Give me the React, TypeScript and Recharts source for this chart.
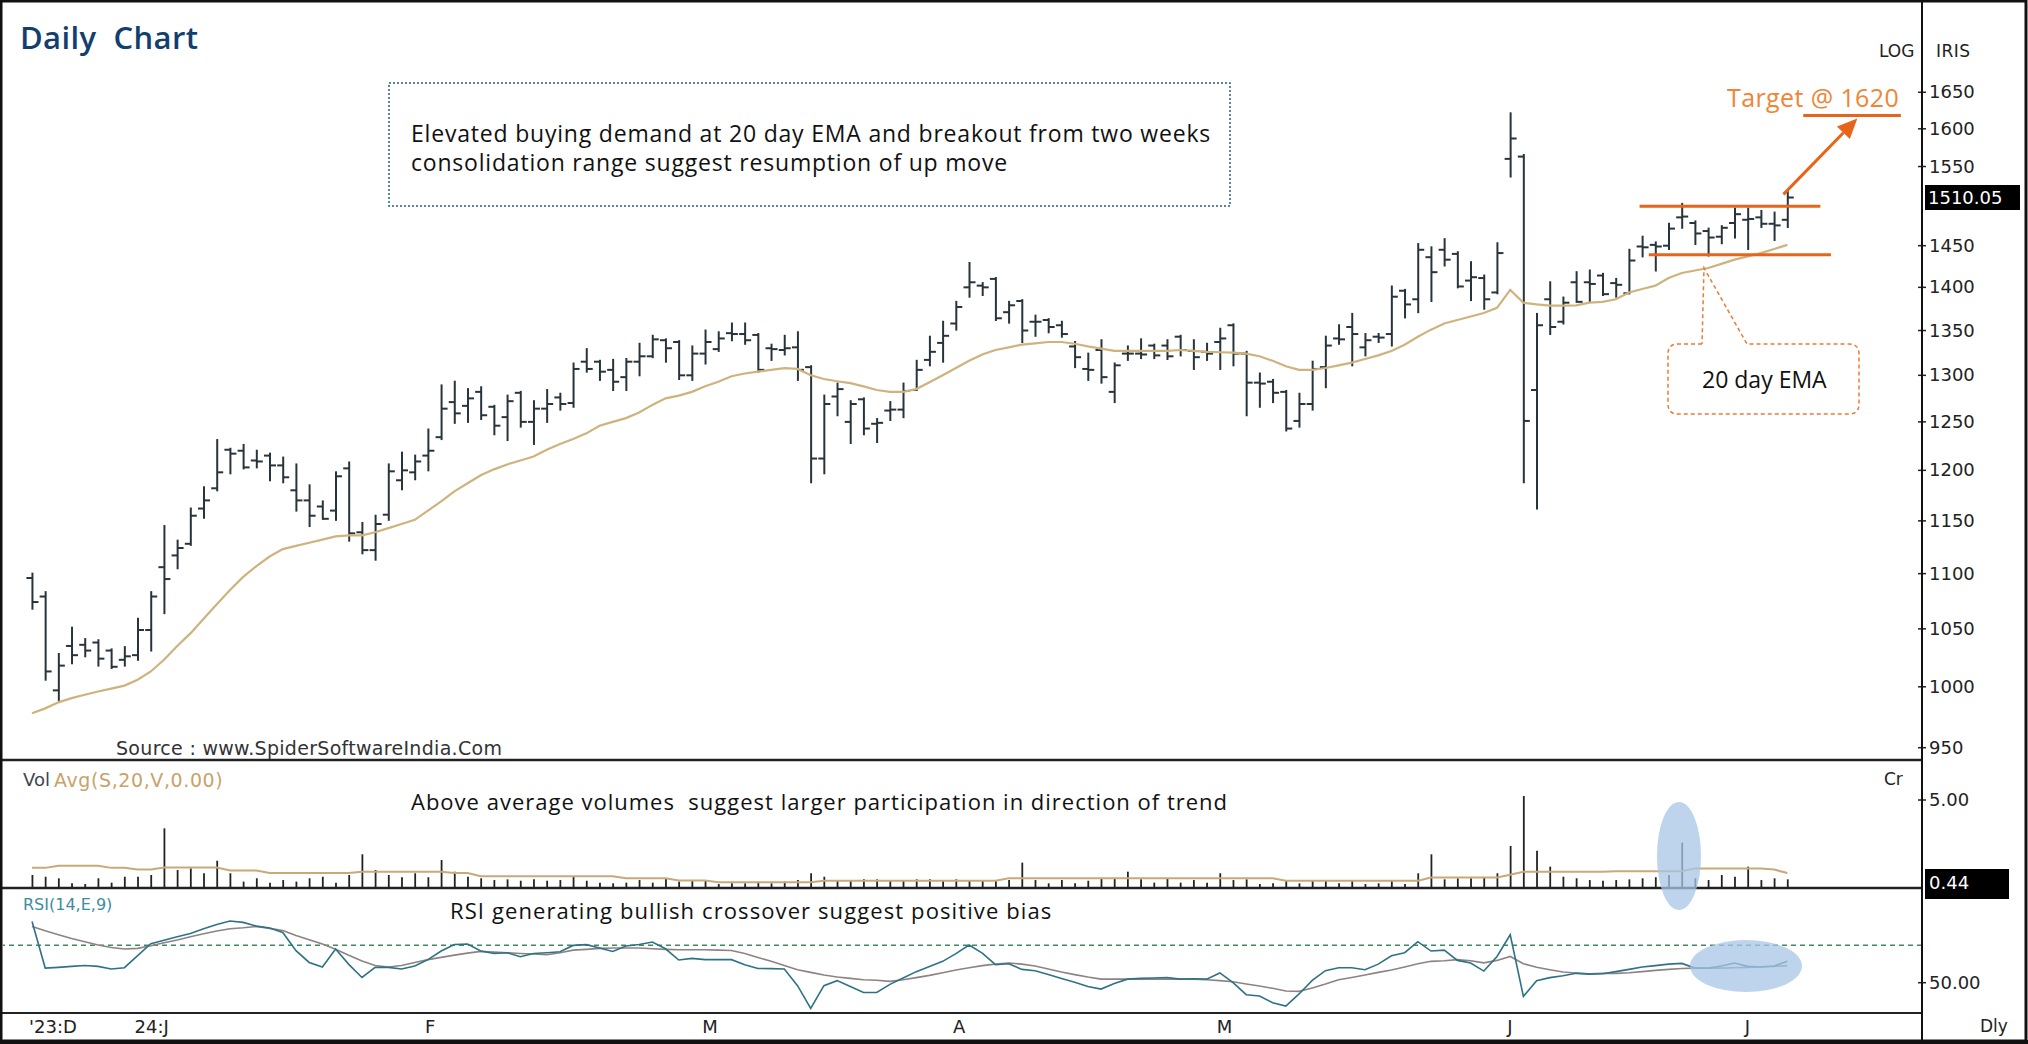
import React from "react";
import {
  ComposedChart,
  Bar,
  Line,
  XAxis,
  YAxis,
  ReferenceLine,
} from "recharts";

// one value per trading day, Dec 2023 .. early Jul 2024
const opens = [1096, 1079, 997, 1035, 1036, 1038, 1031, 1023, 1027, 1049,
  1106, 1117, 1128, 1162, 1182, 1221, 1220, 1210, 1215, 1205,
  1180, 1170, 1164, 1160, 1202, 1139, 1122, 1156, 1190, 1198,
  1215, 1234, 1271, 1267, 1282, 1266, 1255, 1281, 1250, 1264,
  1276, 1270, 1315, 1315, 1306, 1298, 1315, 1321, 1339, 1337,
  1300, 1324, 1329, 1347, 1346, 1345, 1330, 1328, 1331, 1309,
  1212, 1277, 1250, 1274, 1248, 1262, 1263, 1284, 1317, 1336,
  1358, 1400, 1402, 1410, 1371, 1384, 1360, 1362, 1356, 1332,
  1307, 1328, 1282, 1324, 1324, 1333, 1333, 1343, 1327, 1326,
  1337, 1356, 1324, 1292, 1293, 1282, 1251, 1269, 1309, 1341,
  1354, 1331, 1343, 1346, 1396, 1386, 1436, 1445, 1440, 1408,
  1411, 1394, 1560, 1563, 1284, 1386, 1360, 1406, 1406, 1414,
  1405, 1393, 1449, 1451, 1450, 1485, 1478, 1468, 1461, 1478,
  1482, 1485, 1477, 1482];

const highs = [1100, 1083, 1028, 1051, 1041, 1040, 1032, 1034, 1059, 1083,
  1145, 1131, 1162, 1183, 1231, 1222, 1226, 1220, 1217, 1213,
  1206, 1185, 1169, 1198, 1208, 1148, 1155, 1206, 1218, 1215,
  1242, 1289, 1293, 1285, 1287, 1267, 1278, 1282, 1272, 1284,
  1280, 1313, 1329, 1316, 1317, 1318, 1335, 1344, 1340, 1338,
  1332, 1350, 1348, 1358, 1358, 1346, 1334, 1344, 1348, 1310,
  1278, 1291, 1272, 1275, 1253, 1271, 1291, 1316, 1343, 1360,
  1383, 1429, 1405, 1411, 1383, 1385, 1367, 1363, 1360, 1337,
  1324, 1339, 1313, 1332, 1340, 1334, 1339, 1344, 1339, 1335,
  1352, 1357, 1326, 1302, 1295, 1283, 1280, 1315, 1343, 1356,
  1369, 1346, 1346, 1401, 1397, 1452, 1448, 1458, 1442, 1430,
  1414, 1453, 1621, 1565, 1369, 1406, 1388, 1418, 1420, 1416,
  1410, 1445, 1461, 1454, 1477, 1502, 1480, 1471, 1474, 1496,
  1496, 1493, 1491, 1517];

const lows = [1068, 1006, 989, 1020, 1026, 1018, 1016, 1018, 1023, 1031,
  1064, 1105, 1127, 1153, 1180, 1197, 1202, 1203, 1190, 1188,
  1160, 1145, 1152, 1151, 1131, 1119, 1113, 1151, 1181, 1191,
  1200, 1232, 1249, 1250, 1253, 1237, 1231, 1245, 1227, 1250,
  1263, 1266, 1304, 1295, 1284, 1284, 1300, 1320, 1315, 1296,
  1295, 1313, 1327, 1339, 1335, 1304, 1317, 1323, 1295, 1188,
  1197, 1257, 1228, 1237, 1229, 1252, 1255, 1284, 1311, 1315,
  1351, 1389, 1391, 1362, 1359, 1337, 1344, 1348, 1343, 1309,
  1295, 1292, 1271, 1317, 1319, 1319, 1318, 1322, 1307, 1317,
  1307, 1311, 1257, 1266, 1271, 1241, 1245, 1263, 1287, 1335,
  1311, 1322, 1337, 1333, 1365, 1371, 1384, 1426, 1400, 1385,
  1375, 1393, 1537, 1188, 1162, 1346, 1358, 1383, 1383, 1391,
  1389, 1393, 1437, 1420, 1446, 1472, 1452, 1438, 1453, 1460,
  1446, 1473, 1457, 1473];

const closes = [1074, 1013, 1018, 1027, 1031, 1024, 1017, 1026, 1049, 1079,
  1095, 1124, 1155, 1170, 1198, 1217, 1203, 1209, 1205, 1193,
  1170, 1155, 1152, 1194, 1138, 1122, 1147, 1199, 1200, 1209,
  1220, 1264, 1259, 1275, 1257, 1246, 1272, 1250, 1264, 1269,
  1269, 1307, 1307, 1304, 1293, 1315, 1321, 1340, 1330, 1300,
  1324, 1337, 1341, 1346, 1339, 1306, 1329, 1330, 1306, 1212,
  1269, 1285, 1269, 1243, 1249, 1263, 1283, 1306, 1326, 1344,
  1377, 1406, 1400, 1364, 1379, 1350, 1360, 1354, 1346, 1320,
  1306, 1298, 1311, 1324, 1323, 1322, 1321, 1328, 1320, 1324,
  1341, 1324, 1292, 1291, 1281, 1243, 1269, 1307, 1333, 1340,
  1346, 1339, 1342, 1389, 1380, 1445, 1418, 1433, 1401, 1412,
  1386, 1441, 1587, 1251, 1356, 1354, 1382, 1383, 1404, 1392,
  1403, 1432, 1448, 1449, 1471, 1486, 1465, 1460, 1472, 1489,
  1483, 1477, 1475, 1510.05];

const ema20 = [978, 982, 987, 990.5, 993.3, 996, 998.5, 1001, 1006, 1013,
  1023, 1035, 1046, 1059, 1072, 1085, 1097, 1107, 1116, 1123,
  1126, 1129, 1132, 1135, 1136, 1136, 1139, 1143, 1147, 1151,
  1160, 1169, 1179, 1187, 1195, 1201, 1206, 1210, 1214, 1221,
  1227, 1232, 1238, 1246, 1250, 1254, 1260, 1268, 1275, 1278,
  1282, 1288, 1293, 1299, 1302, 1304, 1306, 1308, 1307, 1300,
  1296, 1293.5, 1291.5, 1288, 1284, 1282, 1282, 1285, 1292.5, 1300,
  1308, 1316, 1323, 1328, 1331, 1334, 1335.5, 1337, 1337, 1335,
  1332, 1329.5, 1327, 1327, 1327, 1327, 1327, 1328, 1327, 1326,
  1325.5, 1325, 1324, 1321, 1316, 1310, 1306, 1306, 1308, 1311,
  1314, 1318, 1322, 1327, 1334, 1343, 1351, 1358, 1362, 1366,
  1370, 1376, 1397, 1382, 1380, 1378.5, 1378.5, 1379, 1382, 1383,
  1386, 1394, 1398, 1402, 1411, 1417, 1420, 1423, 1428, 1433,
  1437, 1441, 1446, 1451];

// volume in crore
const volumes = [0.69, 0.59, 0.5, 0.21, 0.17, 0.5, 0.25, 0.59, 0.59, 0.69,
  3.37, 0.98, 1.07, 0.79, 1.51, 0.79, 0.31, 0.5, 0.25, 0.4,
  0.31, 0.5, 0.59, 0.25, 0.69, 1.88, 0.98, 0.69, 0.56, 0.79,
  0.56, 1.55, 0.88, 0.59, 0.5, 0.4, 0.44, 0.36, 0.44, 0.36,
  0.4, 0.59, 0.36, 0.25, 0.21, 0.25, 0.4, 0.25, 0.5, 0.31,
  0.4, 0.36, 0.17, 0.21, 0.21, 0.31, 0.21, 0.31, 0.4, 0.79,
  0.59, 0.4, 0.4, 0.44, 0.44, 0.4, 0.4, 0.44, 0.44, 0.4,
  0.44, 0.4, 0.4, 0.4, 0.4, 1.4, 0.4, 0.21, 0.4, 0.21,
  0.36, 0.5, 0.5, 0.88, 0.44, 0.25, 0.5, 0.25, 0.4, 0.25,
  0.79, 0.4, 0.44, 0.17, 0.21, 0.36, 0.21, 0.36, 0.36, 0.21,
  0.36, 0.17, 0.21, 0.36, 0.17, 0.79, 1.88, 0.44, 0.5, 0.5,
  0.56, 0.79, 2.36, 5.23, 2.09, 1.17, 0.59, 0.5, 0.4, 0.36,
  0.4, 0.44, 0.5, 0.56, 0.69, 2.55, 0.5, 0.4, 0.69, 0.59,
  1.17, 0.4, 0.5, 0.44];

const volAvg = [1.1, 1.1, 1.22, 1.22, 1.22, 1.22, 1.1, 1.1, 1.0, 1.0,
  1.12, 1.12, 1.12, 1.12, 1.12, 0.95, 0.95, 0.95, 0.8, 0.8,
  0.8, 0.8, 0.8, 0.8, 0.8, 0.88, 0.88, 0.88, 0.88, 0.88,
  0.88, 0.88, 0.8, 0.8, 0.62, 0.62, 0.62, 0.62, 0.62, 0.62,
  0.62, 0.62, 0.62, 0.62, 0.62, 0.5, 0.5, 0.5, 0.5, 0.38,
  0.38, 0.38, 0.28, 0.28, 0.28, 0.28, 0.28, 0.28, 0.28, 0.28,
  0.36, 0.36, 0.36, 0.36, 0.36, 0.36, 0.36, 0.36, 0.36, 0.36,
  0.36, 0.36, 0.36, 0.36, 0.5, 0.5, 0.5, 0.5, 0.5, 0.5,
  0.5, 0.5, 0.5, 0.5, 0.5, 0.5, 0.5, 0.5, 0.5, 0.5,
  0.5, 0.5, 0.5, 0.5, 0.5, 0.36, 0.36, 0.36, 0.36, 0.36,
  0.36, 0.36, 0.36, 0.36, 0.36, 0.36, 0.55, 0.55, 0.55, 0.55,
  0.55, 0.55, 0.7, 0.88, 0.88, 0.88, 0.88, 0.88, 0.88, 0.88,
  0.9, 0.9, 0.9, 0.9, 0.9, 0.9, 1.07, 1.07, 1.07, 1.07,
  1.07, 1.07, 1.0, 0.8];

const rsi = [82.7, 57.8, 58.2, 58.7, 59.2, 58.7, 57.3, 58.0, 64.4, 70.8,
  72.7, 74.5, 76.3, 78.8, 81.1, 82.9, 82.2, 80.2, 79.2, 76.8,
  67.1, 60.8, 58.4, 68.0, 59.8, 52.8, 58.2, 58.2, 57.3, 58.9,
  62.3, 66.9, 70.4, 70.6, 66.9, 65.6, 66.0, 63.9, 65.6, 66.0,
  66.5, 69.9, 70.3, 68.5, 66.7, 69.6, 70.4, 71.7, 68.1, 62.1,
  63.0, 62.3, 62.3, 62.3, 59.6, 57.6, 57.5, 57.3, 48.4, 36.3,
  48.4, 51.1, 48.0, 44.8, 44.8, 49.1, 52.5, 55.9, 58.7, 61.4,
  65.5, 70.1, 65.8, 59.6, 60.1, 57.1, 56.4, 54.4, 52.3, 50.2,
  48.0, 46.6, 49.6, 51.9, 52.3, 52.5, 52.8, 51.9, 52.1, 51.9,
  55.2, 50.0, 43.6, 42.9, 39.3, 37.5, 44.0, 51.2, 56.4, 58.0,
  58.0, 56.9, 59.9, 64.4, 66.0, 71.9, 66.9, 67.4, 61.9, 60.5,
  56.2, 64.0, 75.6, 42.7, 51.1, 52.7, 53.7, 55.0, 54.6, 54.8,
  55.9, 57.1, 58.4, 59.1, 59.9, 60.3, 57.8, 57.8, 58.9, 60.5,
  58.7, 58.4, 58.9, 61.4];

const rsiSignal = [80.0, 77.7, 75.6, 73.6, 71.9, 70.1, 68.8, 68.0, 68.3, 69.7,
  71.3, 72.8, 74.5, 76.1, 77.6, 78.8, 79.3, 80.0, 79.0, 77.9,
  75.2, 72.9, 70.6, 67.8, 64.6, 61.6, 59.2, 58.4, 59.2, 60.8,
  62.3, 63.5, 64.7, 65.8, 66.7, 66.3, 66.0, 65.6, 65.3, 64.9,
  66.0, 67.4, 67.8, 68.3, 68.5, 68.5, 68.5, 68.1, 67.8, 67.6,
  67.6, 67.6, 67.4, 67.2, 65.6, 63.5, 61.4, 59.2, 56.9, 55.5,
  54.1, 53.0, 52.3, 51.6, 51.3, 50.7, 51.6, 52.7, 53.9, 55.3,
  56.8, 58.0, 59.1, 59.9, 60.5, 59.9, 58.9, 57.3, 55.7, 54.3,
  53.0, 51.9, 51.9, 51.9, 51.9, 51.9, 51.9, 51.9, 51.9, 51.6,
  51.1, 50.5, 49.3, 48.2, 47.0, 45.6, 45.4, 47.2, 49.3, 51.6,
  52.8, 54.1, 55.5, 56.8, 58.4, 60.1, 61.4, 61.7, 62.3, 61.7,
  60.6, 61.9, 64.0, 60.1, 58.2, 56.9, 55.7, 55.2, 54.8, 55.0,
  55.0, 55.3, 55.9, 56.6, 57.1, 57.6, 57.8, 57.8, 57.8, 58.0,
  58.2, 58.5, 58.7, 59.1];

// 1500 sits under the last-price box, so it is not labelled
const priceTicks = [950, 1000, 1050, 1100, 1150, 1200, 1250, 1300, 1350, 1400, 1450, 1550, 1600, 1650];
const monthTicks = [0, 8, 30, 51, 70, 90, 112, 130];
const monthLabels = ["'23:D", "24:J", "F", "M", "A", "M", "J", "J"];

const rows = opens.map((o, i) => ({
  i,
  o,
  h: highs[i],
  l: lows[i],
  c: closes[i],
  range: [lows[i], highs[i]],
  ema: ema20[i],
  vol: volumes[i],
  avg: volAvg[i],
  rsi: rsi[i],
  sig: rsiSignal[i],
}));

const W = 2028;
const H = 1044;
const xDomain: [number, number] = [-2.2, 143.2];
const AXIS_W = 100;
const axisFont = '"DejaVu Sans", Verdana, sans-serif';
const noteFont = '"Open Sans", "Noto Sans", sans-serif';
const BAR_COLOR = "#27343b";
const ORANGE = "#e8641b";

function OhlcShape(props: any) {
  const { x, y, width, height, payload } = props;
  if (x == null || !payload) return null;
  const cx = x + width / 2;
  const lh = Math.log(payload.h);
  const ll = Math.log(payload.l);
  const span = lh - ll || 1;
  const at = (v: number) => y + ((lh - Math.log(v)) / span) * height;
  return (
    <g stroke={BAR_COLOR} strokeWidth={2}>
      <line x1={cx} x2={cx} y1={y - 1} y2={y + height + 1} />
      <line x1={cx - 6} x2={cx} y1={at(payload.o)} y2={at(payload.o)} />
      <line x1={cx} x2={cx + 6} y1={at(payload.c)} y2={at(payload.c)} />
    </g>
  );
}

function VolShape(props: any) {
  const { x, y, width, height } = props;
  if (x == null) return null;
  const cx = x + width / 2;
  return <line x1={cx} x2={cx} y1={y} y2={y + height} stroke="#222" strokeWidth={1.8} />;
}

function ArrowShape(props: any) {
  const { x1, y1, x2, y2 } = props;
  const a = Math.atan2(y2 - y1, x2 - x1);
  const len = 20;
  const wid = 9;
  const bx = x2 - len * Math.cos(a);
  const by = y2 - len * Math.sin(a);
  const px = -Math.sin(a) * wid;
  const py = Math.cos(a) * wid;
  return (
    <g>
      <line x1={x1} y1={y1} x2={bx} y2={by} stroke={ORANGE} strokeWidth={3} />
      <polygon points={`${x2},${y2} ${bx + px},${by + py} ${bx - px},${by - py}`} fill={ORANGE} />
    </g>
  );
}

const rightTick = (fmt: (v: number) => string) => (p: any) => (
  <g>
    <line x1={p.x - 4} x2={p.x + 4} y1={p.y} y2={p.y} stroke="#222" strokeWidth={1.5} />
    <text x={p.x + 7} y={p.y} dy={6} fontSize={18} fontFamily={axisFont} fill="#222">
      {fmt(p.payload.value)}
    </text>
  </g>
);

const monthTick = (p: any) => {
  const idx = monthTicks.indexOf(p.payload.value);
  return (
    <text x={p.x - 3} y={p.y} dy={22} fontSize={18} fontFamily={axisFont} fill="#222" textAnchor="start">
      {monthLabels[idx]}
    </text>
  );
};

function Note(props: { x: number; y: number; size: number; color?: string; weight?: number; font?: string; spacing?: number; children: any }) {
  const { x, y, size, color = "#111", weight = 400, font = noteFont, spacing = 0, children } = props;
  return (
    <div
      style={{
        position: "absolute",
        left: x,
        top: y - size * 0.62,
        fontSize: size,
        lineHeight: `${Math.round(size * 1.24)}px`,
        color,
        fontWeight: weight,
        fontFamily: font,
        letterSpacing: spacing,
        whiteSpace: "pre",
      }}
    >
      {children}
    </div>
  );
}

function PriceChart() {
  return (
    <div style={{ position: "absolute", left: 0, top: 0 }}>
      <ComposedChart width={W} height={770} data={rows} margin={{ top: 8, right: 6, bottom: 10, left: 3 }}>
        <XAxis dataKey="i" type="number" domain={xDomain} allowDataOverflow hide />
        <YAxis
          orientation="right"
          width={AXIS_W}
          scale="log"
          domain={[940.2, 1771.4]}
          allowDataOverflow
          ticks={priceTicks}
          interval={0}
          axisLine={false}
          tickLine={false}
          tickSize={0}
          tickMargin={0}
          tick={rightTick((v) => String(v))}
        />
        <Line dataKey="ema" stroke="#cfb37e" strokeWidth={2.2} dot={false} isAnimationActive={false} />
        <Bar dataKey="range" barSize={10} shape={OhlcShape} isAnimationActive={false} />
        <ReferenceLine segment={[{ x: 121.8, y: 1499 }, { x: 135.5, y: 1499 }]} stroke={ORANGE} strokeWidth={3} ifOverflow="visible" />
        <ReferenceLine segment={[{ x: 122.5, y: 1439 }, { x: 136.3, y: 1439 }]} stroke={ORANGE} strokeWidth={3} ifOverflow="visible" />
        <ReferenceLine segment={[{ x: 134.2, y: 1618 }, { x: 141.6, y: 1618 }]} stroke={ORANGE} strokeWidth={3} ifOverflow="visible" />
        <ReferenceLine segment={[{ x: 132.7, y: 1514 }, { x: 138.3, y: 1614 }]} shape={ArrowShape} ifOverflow="visible" />
      </ComposedChart>
    </div>
  );
}

function VolumeChart() {
  return (
    <div style={{ position: "absolute", left: 0, top: 760 }}>
      <ComposedChart width={W} height={127} data={rows} margin={{ top: 0, right: 6, bottom: 0, left: 3 }}>
        <XAxis dataKey="i" type="number" domain={xDomain} allowDataOverflow hide />
        <YAxis
          orientation="right"
          width={AXIS_W}
          domain={[0, 7.3]}
          allowDataOverflow
          ticks={[5]}
          interval={0}
          axisLine={false}
          tickLine={false}
          tickSize={0}
          tickMargin={0}
          tick={rightTick((v) => v.toFixed(2))}
        />
        <Bar dataKey="vol" barSize={4} shape={VolShape} isAnimationActive={false} />
        <Line dataKey="avg" stroke="#c9a977" strokeWidth={2} dot={false} isAnimationActive={false} />
      </ComposedChart>
    </div>
  );
}

function RsiChart() {
  return (
    <div style={{ position: "absolute", left: 0, top: 889 }}>
      <ComposedChart width={W} height={155} data={rows} margin={{ top: 0, right: 6, bottom: 3, left: 3 }}>
        <XAxis
          dataKey="i"
          type="number"
          domain={xDomain}
          allowDataOverflow
          ticks={monthTicks}
          interval={0}
          height={30}
          axisLine={false}
          tickLine={false}
          tickSize={0}
          tickMargin={0}
          tick={monthTick}
        />
        <YAxis
          orientation="right"
          width={AXIS_W}
          domain={[34.9, 100]}
          allowDataOverflow
          ticks={[50]}
          interval={0}
          axisLine={false}
          tickLine={false}
          tickSize={0}
          tickMargin={0}
          tick={rightTick((v) => v.toFixed(2))}
        />
        <ReferenceLine y={70} stroke="#3d8b5f" strokeWidth={1.5} strokeDasharray="5 4" />
        <Line dataKey="sig" stroke="#8e8282" strokeWidth={1.6} dot={false} isAnimationActive={false} />
        <Line dataKey="rsi" stroke="#2e7384" strokeWidth={1.6} dot={false} isAnimationActive={false} />
      </ComposedChart>
    </div>
  );
}

function Overlay() {
  const callout =
    "M1702,344 L1678,344 Q1668,344 1668,354 L1668,404 Q1668,414 1678,414 L1849,414 Q1859,414 1859,404 L1859,354 Q1859,344 1849,344 L1747,344 L1704,268 L1702,344";
  return (
    <svg width={W} height={H} style={{ position: "absolute", left: 0, top: 0, pointerEvents: "none" }}>
      <line x1={2} x2={1922} y1={760} y2={760} stroke="#222" strokeWidth={2.5} />
      <line x1={2} x2={1922} y1={888} y2={888} stroke="#222" strokeWidth={2.5} />
      <line x1={2} x2={1922} y1={1013} y2={1013} stroke="#222" strokeWidth={2} />
      <line x1={1922} x2={1922} y1={0} y2={1040} stroke="#111" strokeWidth={2} />
      <rect x={389} y={83} width={841} height={123} fill="none" stroke="#2a5b8c" strokeWidth={1.5} strokeDasharray="2 2" />
      <path d={callout} fill="none" stroke="#ef7a35" strokeWidth={1.5} strokeDasharray="4 3" />
      <ellipse cx={1679} cy={856} rx={22} ry={54} fill="#a7c6e6" opacity={0.75} />
      <ellipse cx={1746} cy={966} rx={56} ry={26} fill="#a7c6e6" opacity={0.75} />
      <rect x={1} y={1} width={2025} height={1040} fill="none" stroke="#111" strokeWidth={3} />
      <line x1={0} x2={W} y1={1042} y2={1042} stroke="#111" strokeWidth={4} />
    </svg>
  );
}

export default function App() {
  return (
    <div style={{ position: "absolute", left: 0, top: 0, width: W, height: H, background: "#fff", overflow: "hidden" }}>
      <PriceChart />
      <VolumeChart />
      <RsiChart />
      <Overlay />

      <Note x={20} y={37} size={31} color="#123f6e" weight={600} spacing={0.4}>{"Daily  Chart"}</Note>
      <Note x={411} y={133} size={23} spacing={0.8}>Elevated buying demand at 20 day EMA and breakout from two weeks</Note>
      <Note x={411} y={162} size={23} spacing={0.8}>consolidation range suggest resumption of up move</Note>
      <Note x={1727} y={97} size={25} color="#ef8535" spacing={0.4}>Target @ 1620</Note>
      <Note x={1702} y={379} size={23}>20 day EMA</Note>
      <Note x={411} y={802} size={22} spacing={1}>{"Above average volumes  suggest larger participation in direction of trend"}</Note>
      <Note x={450} y={911} size={22} spacing={1.1}>RSI generating bullish crossover suggest positive bias</Note>

      <Note x={116} y={748} size={19} color="#333" font={axisFont} spacing={0.3}>Source : www.SpiderSoftwareIndia.Com</Note>
      <Note x={23} y={780} size={18} color="#3c4650" font={axisFont}>Vol</Note>
      <Note x={54} y={780} size={19} color="#c9a26a" font={axisFont} spacing={0.6}>Avg(S,20,V,0.00)</Note>
      <Note x={23} y={905} size={16} color="#3d8ca0" font={axisFont}>RSI(14,E,9)</Note>
      <Note x={1879} y={52} size={17} color="#222" font={axisFont}>LOG</Note>
      <Note x={1936} y={52} size={17} color="#222" font={axisFont} spacing={0.5}>IRIS</Note>
      <Note x={1884} y={780} size={17} color="#222" font={axisFont}>Cr</Note>
      <Note x={1980} y={1027} size={17} color="#222" font={axisFont}>Dly</Note>

      <div style={{ position: "absolute", left: 1925, top: 185, width: 92, height: 25, background: "#000", color: "#fff", fontFamily: axisFont, fontSize: 18, lineHeight: "25px", paddingLeft: 3 }}>
        1510.05
      </div>
      <div style={{ position: "absolute", left: 1925, top: 869, width: 80, height: 30, background: "#000", color: "#fff", fontFamily: axisFont, fontSize: 18, lineHeight: "28px", paddingLeft: 4 }}>
        0.44
      </div>
    </div>
  );
}
